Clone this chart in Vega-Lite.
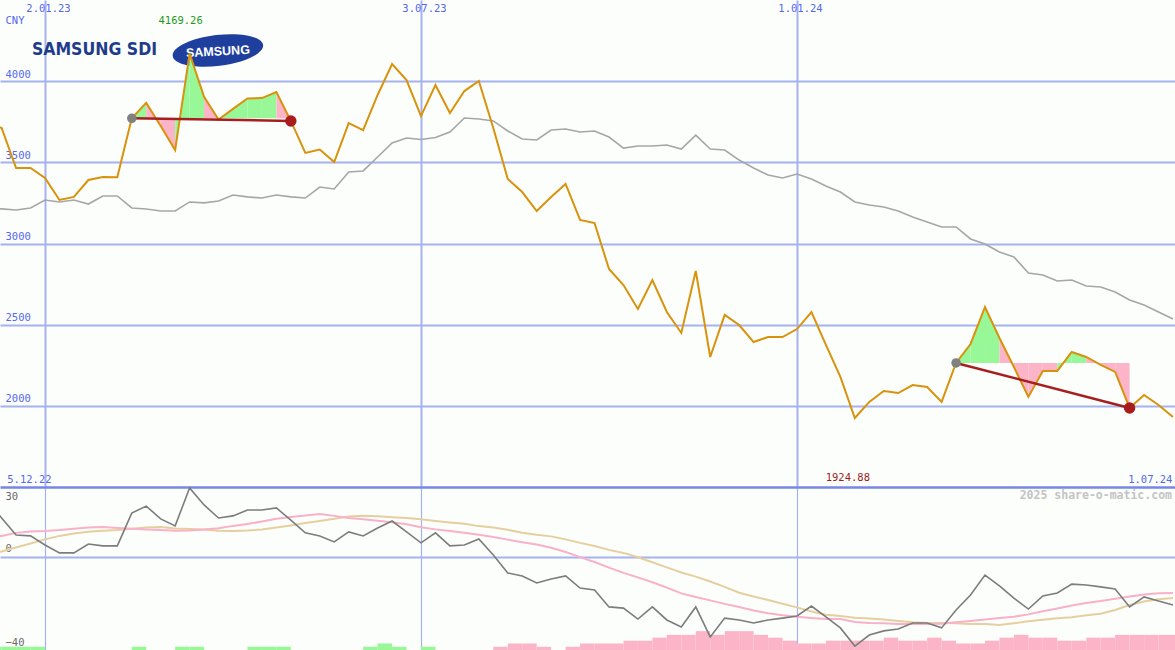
{
  "$schema": "https://vega.github.io/schema/vega-lite/v6.json",
  "background": "#fcfefc",
  "padding": 0,
  "spacing": 0,
  "bounds": "flush",
  "config": {"view": {"stroke": null}, "font": "DejaVu Sans Mono"},
  "resolve": {"scale": {"x": "independent", "y": "independent", "color": "independent"}},
  "datasets": {
    "prices": [
      {"d":"2022-12-05","price":3730,"ma":3213},{"d":"2022-12-12","price":3712,"ma":3213},{"d":"2022-12-19","price":3465,"ma":3206},{"d":"2022-12-26","price":3465,"ma":3219},
      {"d":"2023-01-02","price":3404,"ma":3268},{"d":"2023-01-09","price":3268,"ma":3256},{"d":"2023-01-16","price":3287,"ma":3268},{"d":"2023-01-23","price":3391,"ma":3243},
      {"d":"2023-01-30","price":3410,"ma":3293},{"d":"2023-02-06","price":3408,"ma":3293},{"d":"2023-02-13","price":3771,"ma":3219},{"d":"2023-02-20","price":3866,"ma":3213},
      {"d":"2023-02-27","price":3724,"ma":3200},{"d":"2023-03-06","price":3576,"ma":3200},{"d":"2023-03-13","price":4169.26,"ma":3256},{"d":"2023-03-20","price":3903,"ma":3250},
      {"d":"2023-03-27","price":3764,"ma":3262},{"d":"2023-04-03","price":3829,"ma":3299},{"d":"2023-04-10","price":3893,"ma":3287},{"d":"2023-04-17","price":3896,"ma":3280},
      {"d":"2023-04-24","price":3933,"ma":3299},{"d":"2023-05-01","price":3755,"ma":3287},{"d":"2023-05-08","price":3558,"ma":3280},{"d":"2023-05-15","price":3579,"ma":3348},
      {"d":"2023-05-22","price":3502,"ma":3336},{"d":"2023-05-29","price":3742,"ma":3441},{"d":"2023-06-05","price":3699,"ma":3447},{"d":"2023-06-12","price":3915,"ma":3533},
      {"d":"2023-06-19","price":4106,"ma":3619},{"d":"2023-06-26","price":4007,"ma":3650},{"d":"2023-07-03","price":3785,"ma":3641},{"d":"2023-07-10","price":3976,"ma":3653},
      {"d":"2023-07-17","price":3804,"ma":3687},{"d":"2023-07-24","price":3939,"ma":3773},{"d":"2023-07-31","price":4001,"ma":3767},{"d":"2023-08-07","price":3712,"ma":3755},
      {"d":"2023-08-14","price":3397,"ma":3693},{"d":"2023-08-21","price":3317,"ma":3644},{"d":"2023-08-28","price":3200,"ma":3638},{"d":"2023-09-04","price":3287,"ma":3699},
      {"d":"2023-09-11","price":3367,"ma":3705},{"d":"2023-09-18","price":3145,"ma":3687},{"d":"2023-09-25","price":3126,"ma":3693},{"d":"2023-10-02","price":2843,"ma":3656},
      {"d":"2023-10-09","price":2744,"ma":3588},{"d":"2023-10-16","price":2597,"ma":3601},{"d":"2023-10-23","price":2775,"ma":3601},{"d":"2023-10-30","price":2578,"ma":3607},
      {"d":"2023-11-06","price":2449,"ma":3582},{"d":"2023-11-13","price":2831,"ma":3668},{"d":"2023-11-20","price":2301,"ma":3582},{"d":"2023-11-27","price":2560,"ma":3576},
      {"d":"2023-12-04","price":2498,"ma":3514},{"d":"2023-12-11","price":2393,"ma":3465},{"d":"2023-12-18","price":2424,"ma":3422},{"d":"2023-12-25","price":2424,"ma":3404},
      {"d":"2024-01-01","price":2473,"ma":3428},{"d":"2024-01-08","price":2578,"ma":3397},{"d":"2024-01-15","price":2375,"ma":3354},{"d":"2024-01-22","price":2178,"ma":3317},
      {"d":"2024-01-29","price":1924.88,"ma":3256},{"d":"2024-02-05","price":2024,"ma":3237},{"d":"2024-02-12","price":2091,"ma":3225},{"d":"2024-02-19","price":2079,"ma":3200},
      {"d":"2024-02-26","price":2128,"ma":3163},{"d":"2024-03-04","price":2116,"ma":3133},{"d":"2024-03-11","price":2024,"ma":3102},{"d":"2024-03-18","price":2264,"ma":3102},
      {"d":"2024-03-25","price":2381,"ma":3028},{"d":"2024-04-01","price":2609,"ma":2997},{"d":"2024-04-08","price":2418,"ma":2948},{"d":"2024-04-15","price":2239,"ma":2917},
      {"d":"2024-04-22","price":2055,"ma":2818},{"d":"2024-04-29","price":2215,"ma":2806},{"d":"2024-05-06","price":2215,"ma":2769},{"d":"2024-05-13","price":2332,"ma":2775},
      {"d":"2024-05-20","price":2301,"ma":2738},{"d":"2024-05-27","price":2252,"ma":2732},{"d":"2024-06-03","price":2209,"ma":2701},{"d":"2024-06-10","price":1987,"ma":2652},
      {"d":"2024-06-17","price":2067,"ma":2621},{"d":"2024-06-24","price":2005,"ma":2578},{"d":"2024-07-01","price":1931,"ma":2535}
    ],
    "fills": [
      {"seg":"L6","d":"2023-02-13","price":3771,"base":3771,"sign":"up"},{"seg":"L6","d":"2023-02-20","price":3866,"base":3771,"sign":"up"},
      {"seg":"L7","d":"2023-02-20","price":3866,"base":3771,"sign":"down"},{"seg":"L7","d":"2023-02-27","price":3724,"base":3771,"sign":"down"},
      {"seg":"L8","d":"2023-02-27","price":3724,"base":3771,"sign":"down"},{"seg":"L8","d":"2023-03-06","price":3576,"base":3771,"sign":"down"},
      {"seg":"L9","d":"2023-03-06","price":3576,"base":3771,"sign":"up"},{"seg":"L9","d":"2023-03-13","price":4169.26,"base":3771,"sign":"up"},
      {"seg":"L10","d":"2023-03-13","price":4169.26,"base":3771,"sign":"up"},{"seg":"L10","d":"2023-03-20","price":3903,"base":3771,"sign":"up"},
      {"seg":"L11","d":"2023-03-20","price":3903,"base":3771,"sign":"down"},{"seg":"L11","d":"2023-03-27","price":3764,"base":3771,"sign":"down"},
      {"seg":"L12","d":"2023-03-27","price":3764,"base":3771,"sign":"up"},{"seg":"L12","d":"2023-04-03","price":3829,"base":3771,"sign":"up"},
      {"seg":"L13","d":"2023-04-03","price":3829,"base":3771,"sign":"up"},{"seg":"L13","d":"2023-04-10","price":3893,"base":3771,"sign":"up"},
      {"seg":"L14","d":"2023-04-10","price":3893,"base":3771,"sign":"up"},{"seg":"L14","d":"2023-04-17","price":3896,"base":3771,"sign":"up"},
      {"seg":"L15","d":"2023-04-17","price":3896,"base":3771,"sign":"up"},{"seg":"L15","d":"2023-04-24","price":3933,"base":3771,"sign":"up"},
      {"seg":"L16","d":"2023-04-24","price":3933,"base":3771,"sign":"down"},{"seg":"L16","d":"2023-05-01","price":3755,"base":3771,"sign":"down"},
      {"seg":"R63","d":"2024-03-18","price":2264,"base":2264,"sign":"up"},{"seg":"R63","d":"2024-03-25","price":2381,"base":2264,"sign":"up"},
      {"seg":"R64","d":"2024-03-25","price":2381,"base":2264,"sign":"up"},{"seg":"R64","d":"2024-04-01","price":2609,"base":2264,"sign":"up"},
      {"seg":"R65","d":"2024-04-01","price":2609,"base":2264,"sign":"up"},{"seg":"R65","d":"2024-04-08","price":2418,"base":2264,"sign":"up"},
      {"seg":"R66","d":"2024-04-08","price":2418,"base":2264,"sign":"down"},{"seg":"R66","d":"2024-04-15","price":2239,"base":2264,"sign":"down"},
      {"seg":"R67","d":"2024-04-15","price":2239,"base":2264,"sign":"down"},{"seg":"R67","d":"2024-04-22","price":2055,"base":2264,"sign":"down"},
      {"seg":"R68","d":"2024-04-22","price":2055,"base":2264,"sign":"down"},{"seg":"R68","d":"2024-04-29","price":2215,"base":2264,"sign":"down"},
      {"seg":"R69","d":"2024-04-29","price":2215,"base":2264,"sign":"down"},{"seg":"R69","d":"2024-05-06","price":2215,"base":2264,"sign":"down"},
      {"seg":"R70","d":"2024-05-06","price":2215,"base":2264,"sign":"up"},{"seg":"R70","d":"2024-05-13","price":2332,"base":2264,"sign":"up"},
      {"seg":"R71","d":"2024-05-13","price":2332,"base":2264,"sign":"up"},{"seg":"R71","d":"2024-05-20","price":2301,"base":2264,"sign":"up"},
      {"seg":"R72","d":"2024-05-20","price":2301,"base":2264,"sign":"down"},{"seg":"R72","d":"2024-05-27","price":2252,"base":2264,"sign":"down"},
      {"seg":"R73","d":"2024-05-27","price":2252,"base":2264,"sign":"down"},{"seg":"R73","d":"2024-06-03","price":2209,"base":2264,"sign":"down"},
      {"seg":"R74","d":"2024-06-03","price":2209,"base":2264,"sign":"down"},{"seg":"R74","d":"2024-06-10","price":1987,"base":2264,"sign":"down"}
    ],
    "trend": [
      {"period":"A","d":"2023-02-13","price":3771,"role":"start"},{"period":"A","d":"2023-05-01","price":3755,"role":"end"},
      {"period":"B","d":"2024-03-18","price":2264,"role":"start"},{"period":"B","d":"2024-06-10","price":1987,"role":"end"}
    ],
    "logo": [
      {"d":"2023-01-25T23:00:00Z","price":4192,"label":"SAMSUNG SDI","kind":"sdi"},
      {"d":"2023-03-26T17:00:00Z","price":4189,"label":"SAMSUNG","kind":"oval"}
    ],
    "credit": [
      {"d":"2024-07-01T23:20:00Z","level":24,"label":"2025 share-o-matic.com"}
    ],
    "osc": [
      {"d":"2022-12-05","black":24.4,"pink":8.1,"tan":0.8},{"d":"2022-12-12","black":16.7,"pink":9.0,"tan":2.3},{"d":"2022-12-19","black":9.4,"pink":10.3,"tan":4.0},{"d":"2022-12-26","black":9.0,"pink":10.9,"tan":5.7},
      {"d":"2023-01-02","black":5.1,"pink":11.1,"tan":7.5},{"d":"2023-01-09","black":1.7,"pink":11.5,"tan":9.0},{"d":"2023-01-16","black":1.7,"pink":12.1,"tan":10.0},{"d":"2023-01-23","black":5.5,"pink":12.6,"tan":10.8},
      {"d":"2023-01-30","black":4.7,"pink":12.8,"tan":11.2},{"d":"2023-02-06","black":4.7,"pink":12.4,"tan":11.5},{"d":"2023-02-13","black":18.8,"pink":12.1,"tan":12.1},{"d":"2023-02-20","black":21.8,"pink":11.8,"tan":12.6},
      {"d":"2023-02-27","black":16.3,"pink":11.5,"tan":12.8},{"d":"2023-03-06","black":13.3,"pink":11.2,"tan":12.2},{"d":"2023-03-13","black":29.6,"pink":11.3,"tan":12.0},{"d":"2023-03-20","black":22.3,"pink":11.7,"tan":11.8},
      {"d":"2023-03-27","black":16.7,"pink":12.3,"tan":11.2},{"d":"2023-04-03","black":17.6,"pink":13.3,"tan":11.1},{"d":"2023-04-10","black":20.1,"pink":14.1,"tan":11.3},{"d":"2023-04-17","black":20.1,"pink":15.2,"tan":11.7},
      {"d":"2023-04-24","black":21.0,"pink":16.4,"tan":12.6},{"d":"2023-05-01","black":15.8,"pink":17.1,"tan":13.5},{"d":"2023-05-08","black":10.3,"pink":17.8,"tan":14.5},{"d":"2023-05-15","black":9.0,"pink":18.4,"tan":15.4},
      {"d":"2023-05-22","black":6.4,"pink":17.6,"tan":16.4},{"d":"2023-05-29","black":10.7,"pink":16.7,"tan":17.3},{"d":"2023-06-05","black":9.0,"pink":16.1,"tan":17.6},{"d":"2023-06-12","black":12.4,"pink":15.5,"tan":17.4},
      {"d":"2023-06-19","black":15.4,"pink":14.9,"tan":17.0},{"d":"2023-06-26","black":10.7,"pink":14.0,"tan":16.7},{"d":"2023-07-03","black":6.0,"pink":12.7,"tan":16.1},{"d":"2023-07-10","black":10.3,"pink":11.8,"tan":15.4},
      {"d":"2023-07-17","black":4.7,"pink":11.1,"tan":14.8},{"d":"2023-07-24","black":5.1,"pink":10.4,"tan":14.2},{"d":"2023-07-31","black":7.7,"pink":9.5,"tan":13.2},{"d":"2023-08-07","black":0.8,"pink":8.5,"tan":12.6},
      {"d":"2023-08-14","black":-6.9,"pink":7.4,"tan":11.6},{"d":"2023-08-21","black":-8.2,"pink":6.3,"tan":10.4},{"d":"2023-08-28","black":-11.2,"pink":5.3,"tan":9.5},{"d":"2023-09-04","black":-9.5,"pink":3.9,"tan":8.8},
      {"d":"2023-09-11","black":-8.2,"pink":2.1,"tan":7.5},{"d":"2023-09-18","black":-13.4,"pink":-0.1,"tan":6.0},{"d":"2023-09-25","black":-14.2,"pink":-2.2,"tan":4.7},{"d":"2023-10-02","black":-21.5,"pink":-4.6,"tan":3.0},
      {"d":"2023-10-09","black":-22.0,"pink":-6.9,"tan":1.7},{"d":"2023-10-16","black":-26.7,"pink":-8.8,"tan":-0.2},{"d":"2023-10-23","black":-21.5,"pink":-10.9,"tan":-2.3},{"d":"2023-10-30","black":-27.1,"pink":-13.2,"tan":-4.5},
      {"d":"2023-11-06","black":-30.1,"pink":-15.7,"tan":-6.7},{"d":"2023-11-13","black":-21.5,"pink":-17.2,"tan":-8.5},{"d":"2023-11-20","black":-34.4,"pink":-18.7,"tan":-10.6},{"d":"2023-11-27","black":-26.3,"pink":-20.2,"tan":-12.9},
      {"d":"2023-12-04","black":-27.1,"pink":-21.5,"tan":-15.4},{"d":"2023-12-11","black":-28.4,"pink":-23.0,"tan":-17.0},{"d":"2023-12-18","black":-27.1,"pink":-24.2,"tan":-18.5},{"d":"2023-12-25","black":-26.3,"pink":-25.1,"tan":-20.1},
      {"d":"2024-01-01","black":-25.4,"pink":-25.7,"tan":-21.7},{"d":"2024-01-08","black":-21.1,"pink":-26.3,"tan":-23.5},{"d":"2024-01-15","black":-25.8,"pink":-26.7,"tan":-24.9},{"d":"2024-01-22","black":-30.5,"pink":-26.7,"tan":-25.4},
      {"d":"2024-01-29","black":-38.3,"pink":-28.0,"tan":-26.1},{"d":"2024-02-05","black":-33.6,"pink":-28.4,"tan":-26.5},{"d":"2024-02-12","black":-31.8,"pink":-28.5,"tan":-26.9},{"d":"2024-02-19","black":-31.0,"pink":-28.8,"tan":-27.5},
      {"d":"2024-02-26","black":-28.4,"pink":-28.8,"tan":-28.1},{"d":"2024-03-04","black":-28.4,"pink":-28.8,"tan":-28.4},{"d":"2024-03-11","black":-30.5,"pink":-28.7,"tan":-28.4},{"d":"2024-03-18","black":-22.8,"pink":-28.1,"tan":-28.5},
      {"d":"2024-03-25","black":-16.4,"pink":-27.5,"tan":-28.8},{"d":"2024-04-01","black":-7.8,"pink":-26.9,"tan":-28.8},{"d":"2024-04-08","black":-12.5,"pink":-26.3,"tan":-29.3},{"d":"2024-04-15","black":-17.7,"pink":-25.7,"tan":-28.5},
      {"d":"2024-04-22","black":-22.4,"pink":-24.7,"tan":-27.7},{"d":"2024-04-29","black":-16.8,"pink":-23.4,"tan":-27.0},{"d":"2024-05-06","black":-15.5,"pink":-22.2,"tan":-26.4},{"d":"2024-05-13","black":-11.7,"pink":-20.9,"tan":-25.9},
      {"d":"2024-05-20","black":-12.1,"pink":-19.8,"tan":-25.1},{"d":"2024-05-27","black":-12.9,"pink":-19.0,"tan":-24.4},{"d":"2024-06-03","black":-13.8,"pink":-18.0,"tan":-22.8},{"d":"2024-06-10","black":-21.5,"pink":-17.0,"tan":-20.7},
      {"d":"2024-06-17","black":-17.2,"pink":-16.2,"tan":-19.2},{"d":"2024-06-24","black":-19.0,"pink":-15.6,"tan":-18.2},{"d":"2024-07-01","black":-20.7,"pink":-15.5,"tan":-17.7}
    ],
    "bars": [
      {"d":"2022-12-05","end":"2022-12-12","top":-38.6,"sign":"up"},{"d":"2022-12-12","end":"2022-12-19","top":-38.6,"sign":"up"},{"d":"2022-12-19","end":"2022-12-26","top":-38.6,"sign":"up"},{"d":"2022-12-26","end":"2023-01-02","top":-38.6,"sign":"up"},
      {"d":"2023-02-13","end":"2023-02-20","top":-38.6,"sign":"up"},{"d":"2023-03-06","end":"2023-03-13","top":-38.6,"sign":"up"},{"d":"2023-03-13","end":"2023-03-20","top":-38.6,"sign":"up"},
      {"d":"2023-04-10","end":"2023-04-17","top":-38.6,"sign":"up"},{"d":"2023-04-17","end":"2023-04-24","top":-38.6,"sign":"up"},{"d":"2023-04-24","end":"2023-05-01","top":-38.6,"sign":"up"},
      {"d":"2023-06-05","end":"2023-06-12","top":-38.6,"sign":"up"},{"d":"2023-06-12","end":"2023-06-19","top":-37.2,"sign":"up"},{"d":"2023-06-19","end":"2023-06-26","top":-38.6,"sign":"up"},
      {"d":"2023-07-03","end":"2023-07-10","top":-38.6,"sign":"up"},
      {"d":"2023-08-07","end":"2023-08-14","top":-38.6,"sign":"down"},{"d":"2023-08-14","end":"2023-08-21","top":-37.2,"sign":"down"},{"d":"2023-08-21","end":"2023-08-28","top":-37.2,"sign":"down"},{"d":"2023-08-28","end":"2023-09-04","top":-38.6,"sign":"down"},
      {"d":"2023-09-11","end":"2023-09-18","top":-38.6,"sign":"down"},{"d":"2023-09-18","end":"2023-09-25","top":-37.2,"sign":"down"},{"d":"2023-09-25","end":"2023-10-02","top":-37.2,"sign":"down"},{"d":"2023-10-02","end":"2023-10-09","top":-37.2,"sign":"down"},
      {"d":"2023-10-09","end":"2023-10-16","top":-36.0,"sign":"down"},{"d":"2023-10-16","end":"2023-10-23","top":-36.0,"sign":"down"},{"d":"2023-10-23","end":"2023-10-30","top":-34.7,"sign":"down"},{"d":"2023-10-30","end":"2023-11-06","top":-33.5,"sign":"down"},
      {"d":"2023-11-06","end":"2023-11-13","top":-33.5,"sign":"down"},{"d":"2023-11-13","end":"2023-11-20","top":-31.9,"sign":"down"},{"d":"2023-11-20","end":"2023-11-27","top":-33.5,"sign":"down"},{"d":"2023-11-27","end":"2023-12-04","top":-31.9,"sign":"down"},
      {"d":"2023-12-04","end":"2023-12-11","top":-31.9,"sign":"down"},{"d":"2023-12-11","end":"2023-12-18","top":-33.5,"sign":"down"},{"d":"2023-12-18","end":"2023-12-25","top":-34.7,"sign":"down"},{"d":"2023-12-25","end":"2024-01-01","top":-36.0,"sign":"down"},
      {"d":"2024-01-01","end":"2024-01-08","top":-37.2,"sign":"down"},{"d":"2024-01-08","end":"2024-01-15","top":-37.2,"sign":"down"},{"d":"2024-01-15","end":"2024-01-22","top":-36.0,"sign":"down"},{"d":"2024-01-22","end":"2024-01-29","top":-36.0,"sign":"down"},
      {"d":"2024-01-29","end":"2024-02-05","top":-36.0,"sign":"down"},{"d":"2024-02-05","end":"2024-02-12","top":-36.0,"sign":"down"},{"d":"2024-02-12","end":"2024-02-19","top":-34.7,"sign":"down"},{"d":"2024-02-19","end":"2024-02-26","top":-36.0,"sign":"down"},
      {"d":"2024-02-26","end":"2024-03-04","top":-36.0,"sign":"down"},{"d":"2024-03-04","end":"2024-03-11","top":-34.7,"sign":"down"},{"d":"2024-03-11","end":"2024-03-18","top":-36.0,"sign":"down"},{"d":"2024-03-18","end":"2024-03-25","top":-37.2,"sign":"down"},
      {"d":"2024-03-25","end":"2024-04-01","top":-37.2,"sign":"down"},{"d":"2024-04-01","end":"2024-04-08","top":-36.0,"sign":"down"},{"d":"2024-04-08","end":"2024-04-15","top":-34.7,"sign":"down"},{"d":"2024-04-15","end":"2024-04-22","top":-33.5,"sign":"down"},
      {"d":"2024-04-22","end":"2024-04-29","top":-34.7,"sign":"down"},{"d":"2024-04-29","end":"2024-05-06","top":-34.7,"sign":"down"},{"d":"2024-05-06","end":"2024-05-13","top":-36.0,"sign":"down"},{"d":"2024-05-13","end":"2024-05-20","top":-36.0,"sign":"down"},
      {"d":"2024-05-20","end":"2024-05-27","top":-34.7,"sign":"down"},{"d":"2024-05-27","end":"2024-06-03","top":-34.7,"sign":"down"},{"d":"2024-06-03","end":"2024-06-10","top":-33.5,"sign":"down"},{"d":"2024-06-10","end":"2024-06-17","top":-33.5,"sign":"down"},
      {"d":"2024-06-17","end":"2024-06-24","top":-33.5,"sign":"down"},{"d":"2024-06-24","end":"2024-07-01","top":-33.5,"sign":"down"},{"d":"2024-07-01","end":"2024-07-08","top":-33.5,"sign":"down"}
    ]
  },
  "vconcat": [
    {
      "width": 1175,
      "height": 487,
      "encoding": {
        "x": {
          "field": "d", "type": "temporal",
          "scale": {"type": "utc", "domain": [{"year":2022,"month":12,"date":11,"hours":5,"minutes":17,"utc":true}, {"year":2024,"month":7,"date":1,"hours":23,"minutes":20,"utc":true}]},
          "axis": {
            "orient": "top", "title": null, "domain": false, "ticks": false, "tickSize": 0,
            "values": [{"year":2023,"month":1,"date":2,"utc":true}, {"year":2023,"month":7,"date":3,"utc":true}, {"year":2024,"month":1,"date":1,"utc":true}],
            "grid": true, "gridColor": "#a4b2f0", "gridWidth": 2,
            "labelExpr": "utcFormat(datum.value, '%-d.%m.%y')",
            "labelPadding": -13, "labelOffset": 3, "labelColor": "#5468ee", "labelFont": "DejaVu Sans Mono", "labelFontSize": 10.5
          }
        },
        "y": {
          "field": "price", "type": "quantitative",
          "scale": {"domain": [1500, 4500], "nice": false, "zero": false},
          "axis": {
            "values": [2000, 2500, 3000, 3500, 4000], "format": "d", "domain": false, "ticks": false, "tickSize": 0,
            "grid": true, "gridColor": "#a4b2f0", "gridWidth": 2,
            "labelAlign": "left", "labelBaseline": "bottom", "labelPadding": -5, "labelOffset": -2,
            "labelColor": "#5468ee", "labelFont": "DejaVu Sans Mono", "labelFontSize": 10.5,
            "title": "CNY", "titleAngle": 0, "titleX": 5, "titleY": 25, "titleAlign": "left", "titleBaseline": "bottom",
            "titleColor": "#5468ee", "titleFont": "DejaVu Sans Mono", "titleFontSize": 10.5, "titleFontWeight": "normal"
          }
        }
      },
      "layer": [
        {
          "data": {"name": "logo"},
          "transform": [{"filter": "datum.kind == 'sdi'"}],
          "mark": {"type": "text", "font": "DejaVu Sans Condensed, Liberation Sans, sans-serif", "fontWeight": "bold", "fontSize": 17.5, "color": "#1f3c8c", "align": "center", "baseline": "middle"},
          "encoding": {"text": {"field": "label"}}
        },
        {
          "data": {"name": "logo"},
          "transform": [{"filter": "datum.kind == 'oval'"}],
          "mark": {"type": "point", "filled": true, "opacity": 1, "color": "#1f3f9f", "size": 8300, "angle": -7,
                   "shape": "M-1,0 C-1,-0.188 -0.552,-0.34 0,-0.34 C0.552,-0.34 1,-0.188 1,0 C1,0.188 0.552,0.34 0,0.34 C-0.552,0.34 -1,0.188 -1,0 Z"}
        },
        {
          "data": {"name": "logo"},
          "transform": [{"filter": "datum.kind == 'oval'"}],
          "mark": {"type": "text", "font": "Liberation Sans, sans-serif", "fontWeight": "bold", "fontSize": 12.5, "color": "#ffffff", "align": "center", "baseline": "middle", "angle": -3, "dy": 1},
          "encoding": {"text": {"field": "label"}}
        },
        {
          "data": {"name": "fills"},
          "mark": {"type": "area", "clip": true, "interpolate": "linear"},
          "encoding": {
            "y": {"field": "price", "type": "quantitative", "stack": null, "scale": {"domain": [1500, 4500], "nice": false, "zero": false}},
            "y2": {"field": "base"},
            "detail": {"field": "seg"},
            "color": {"field": "sign", "type": "nominal", "scale": {"domain": ["up", "down"], "range": ["#98f898", "#fcb5c8"]}, "legend": null}
          }
        },
        {
          "data": {"name": "prices"},
          "mark": {"type": "line", "clip": true, "color": "#a6a6a6", "strokeWidth": 1.6},
          "encoding": {
            "y": {"field": "ma", "type": "quantitative", "scale": {"domain": [1500, 4500], "nice": false, "zero": false}}
          }
        },
        {
          "data": {"name": "prices"},
          "mark": {"type": "line", "clip": true, "color": "#d8920c", "strokeWidth": 2}
        },
        {
          "data": {"name": "trend"},
          "mark": {"type": "line", "clip": true, "color": "#a61e1e", "strokeWidth": 2.5},
          "encoding": {"detail": {"field": "period"}}
        },
        {
          "data": {"name": "trend"},
          "transform": [{"filter": "datum.role == 'start'"}],
          "mark": {"type": "point", "filled": true, "opacity": 1, "color": "#808080", "size": 90}
        },
        {
          "data": {"name": "trend"},
          "transform": [{"filter": "datum.role == 'end'"}],
          "mark": {"type": "point", "filled": true, "opacity": 1, "color": "#a81c1c", "size": 130}
        },
        {
          "data": {"name": "prices"},
          "transform": [{"filter": "datum.price > 4169"}],
          "mark": {"type": "text", "font": "DejaVu Sans Mono", "fontSize": 10.5, "color": "#1c9a1c", "align": "center", "baseline": "bottom", "dx": -9, "dy": -28},
          "encoding": {"text": {"field": "price", "type": "quantitative", "format": ".2f"}}
        },
        {
          "data": {"name": "prices"},
          "transform": [{"filter": "datum.price < 1925"}],
          "mark": {"type": "text", "font": "DejaVu Sans Mono", "fontSize": 10.5, "color": "#a01c1c", "align": "center", "baseline": "bottom", "dx": -7, "dy": 65},
          "encoding": {"text": {"field": "price", "type": "quantitative", "format": ".2f"}}
        }
      ]
    },
    {
      "width": 1175,
      "height": 163,
      "encoding": {
        "x": {
          "field": "d", "type": "temporal",
          "scale": {"type": "utc", "domain": [{"year":2022,"month":12,"date":11,"hours":5,"minutes":17,"utc":true}, {"year":2024,"month":7,"date":1,"hours":23,"minutes":20,"utc":true}]},
          "axis": {
            "orient": "top", "title": null, "ticks": false, "tickSize": 0,
            "domain": true, "domainColor": "#7886ea", "domainWidth": 2.5,
            "values": [{"year":2022,"month":12,"date":14,"hours":12,"utc":true}, {"year":2023,"month":1,"date":2,"utc":true}, {"year":2023,"month":7,"date":3,"utc":true}, {"year":2024,"month":1,"date":1,"utc":true}, {"year":2024,"month":6,"date":30,"hours":12,"utc":true}],
            "grid": true, "gridColor": "#a4b2f0", "gridWidth": 1.2,
            "gridOpacity": {"condition": {"test": "datum.index > 0 && datum.index < 1", "value": 1}, "value": 0},
            "labelExpr": "datum.index == 0 ? '5.12.22' : (datum.index == 1 ? '1.07.24' : '')",
            "labelAlign": {"condition": {"test": "datum.index == 0", "value": "left"}, "value": "right"},
            "labelPadding": 3, "labelColor": "#5468ee", "labelFont": "DejaVu Sans Mono", "labelFontSize": 10.5, "labelOverlap": false
          }
        },
        "y": {
          "field": "black", "type": "quantitative",
          "scale": {"domain": [-40, 30], "nice": false, "zero": false},
          "axis": {
            "values": [-40, 0, 30], "domain": false, "ticks": false, "tickSize": 0, "title": null,
            "grid": true, "gridColor": "#a4b2f0", "gridWidth": 2,
            "gridOpacity": {"condition": {"test": "datum.value == 0", "value": 1}, "value": 0},
            "labelAlign": "left", "labelPadding": -5,
            "labelBaseline": {"condition": {"test": "datum.value == 30", "value": "top"}, "value": "bottom"},
            "labelOffset": {"condition": {"test": "datum.value == 30", "value": 4}, "value": -3},
            "labelColor": "#6a6a6a", "labelFont": "DejaVu Sans Mono", "labelFontSize": 10.5
          }
        }
      },
      "layer": [
        {
          "data": {"name": "bars"},
          "mark": {"type": "rect", "clip": true},
          "encoding": {
            "x2": {"field": "end"},
            "y": {"field": "top", "type": "quantitative", "scale": {"domain": [-40, 30], "nice": false, "zero": false}},
            "y2": {"datum": -40},
            "color": {"field": "sign", "type": "nominal", "scale": {"domain": ["up", "down"], "range": ["#98f898", "#fcb5c8"]}, "legend": null}
          }
        },
        {
          "data": {"name": "osc"},
          "mark": {"type": "line", "clip": true, "color": "#e6cf9e", "strokeWidth": 2},
          "encoding": {"y": {"field": "tan", "type": "quantitative", "scale": {"domain": [-40, 30], "nice": false, "zero": false}}}
        },
        {
          "data": {"name": "osc"},
          "mark": {"type": "line", "clip": true, "color": "#f9b0c8", "strokeWidth": 2},
          "encoding": {"y": {"field": "pink", "type": "quantitative", "scale": {"domain": [-40, 30], "nice": false, "zero": false}}}
        },
        {
          "data": {"name": "osc"},
          "mark": {"type": "line", "clip": true, "color": "#7c7c7c", "strokeWidth": 1.6}
        },
        {
          "data": {"name": "credit"},
          "mark": {"type": "text", "font": "DejaVu Sans Mono", "fontWeight": "bold", "fontSize": 11.5, "color": "#c4c4c4", "align": "right", "baseline": "bottom", "dx": -3},
          "encoding": {
            "y": {"field": "level", "type": "quantitative", "scale": {"domain": [-40, 30], "nice": false, "zero": false}},
            "text": {"field": "label"}
          }
        }
      ]
    }
  ]
}
